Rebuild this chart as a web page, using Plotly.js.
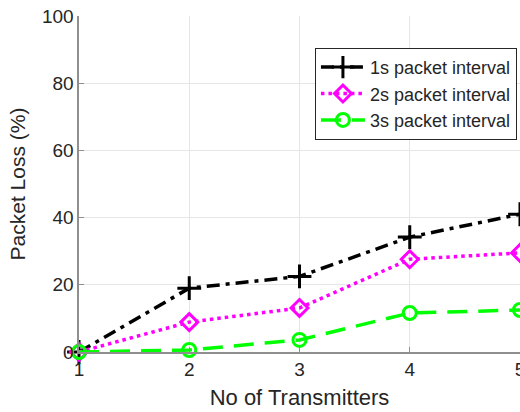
<!DOCTYPE html>
<html>
<head>
<meta charset="utf-8">
<script src="https://cdn.plot.ly/plotly-3.0.1.min.js"></script>
<style>html,body{margin:0;padding:0;background:#fff}#chart{width:520px;height:412px}</style>
</head>
<body>
<div id="chart"></div>
<script>
const transmitters = [1, 2, 3, 4, 5];
const loss1s = [0, 19, 22.5, 34.2, 41];
const loss2s = [0, 8.9, 13.1, 27.6, 29.5];
const loss3s = [0, 0.6, 3.6, 11.6, 12.5];
const seriesNames = ['1s packet interval', '2s packet interval', '3s packet interval'];
const xTickLabels = ['1', '2', '3', '4', '5'];
const yTickVals = [0, 20, 40, 60, 80, 100];

const traces = [
  {
    x: transmitters, y: loss1s, name: seriesNames[0], type: 'scatter', mode: 'lines+markers',
    line: {color: '#000000', width: 3.5, dash: '13px,6px,4px,6px'},
    marker: {symbol: 'cross-thin-open', size: 17, line: {color: '#000000', width: 3}},
    cliponaxis: false
  },
  {
    x: transmitters, y: loss2s, name: seriesNames[1], type: 'scatter', mode: 'lines+markers',
    line: {color: '#ff00ff', width: 3.5, dash: '3.5px,4px'},
    marker: {symbol: 'diamond-open', size: 13, line: {color: '#ff00ff', width: 3}},
    cliponaxis: false
  },
  {
    x: transmitters, y: loss3s, name: seriesNames[2], type: 'scatter', mode: 'lines+markers',
    line: {color: '#00ff00', width: 3.5, dash: '20px,11px'},
    marker: {symbol: 'circle-open', size: 13, line: {color: '#00ff00', width: 3}},
    cliponaxis: false
  }
];

const axisColor = '#8f8f8f';
const textColor = '#262626';
const layout = {
  width: 520, height: 412,
  margin: {l: 79, r: 0, t: 16, b: 60, pad: 0},
  paper_bgcolor: '#ffffff', plot_bgcolor: '#ffffff',
  font: {family: 'Liberation Sans, Arial, sans-serif', color: textColor, size: 19},
  showlegend: true,
  legend: {
    x: 0.535, y: 0.905, xanchor: 'left', yanchor: 'top',
    bgcolor: '#ffffff', bordercolor: '#262626', borderwidth: 1,
    font: {size: 18, color: textColor},
    itemwidth: 44,
    tracegroupgap: 0
  },
  xaxis: {
    range: [1, 5], tickvals: transmitters, ticktext: xTickLabels,
    ticklabeloverflow: 'allow',
    showgrid: true, gridcolor: '#e6e6e6', gridwidth: 1,
    showline: true, linecolor: axisColor, linewidth: 1.6,
    ticks: 'inside', ticklen: 5, tickcolor: axisColor, tickwidth: 1,
    zeroline: false, mirror: false,
    tickfont: {size: 19, color: textColor},
    title: {text: 'No of Transmitters', font: {size: 22, color: textColor}, standoff: 10}
  },
  yaxis: {
    range: [0, 100], tickvals: yTickVals,
    showgrid: true, gridcolor: '#e6e6e6', gridwidth: 1,
    showline: true, linecolor: axisColor, linewidth: 1.6,
    ticks: 'inside', ticklen: 5, tickcolor: axisColor, tickwidth: 1,
    zeroline: false, mirror: false,
    tickfont: {size: 19, color: textColor},
    title: {text: 'Packet Loss (%)', font: {size: 21, color: textColor}, standoff: 10}
  }
};

Plotly.newPlot('chart', traces, layout, {displayModeBar: false, staticPlot: true});
</script>
</body>
</html>
